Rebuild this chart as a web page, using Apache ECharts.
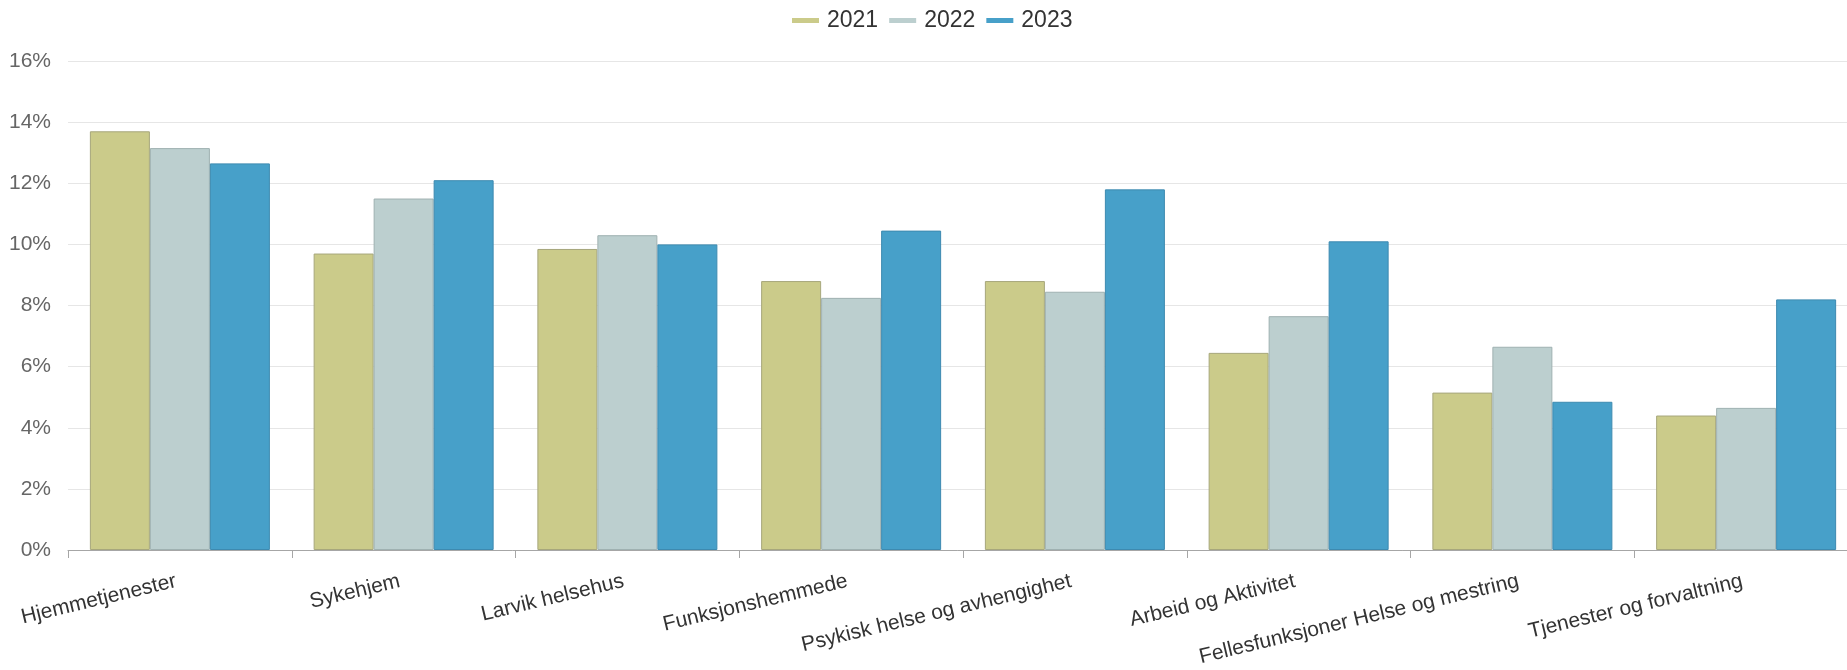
<!DOCTYPE html>
<html>
<head>
<meta charset="utf-8">
<script src="https://cdn.jsdelivr.net/npm/echarts@6/dist/echarts.min.js"></script>
<style>
html,body{margin:0;padding:0;background:#fff;}
#chart{width:1847px;height:670px;}
</style>
</head>
<body>
<div id="chart"></div>
<script>
const categories = ["Hjemmetjenester","Sykehjem","Larvik helsehus","Funksjonshemmede","Psykisk helse og avhengighet","Arbeid og Aktivitet","Fellesfunksjoner Helse og mestring","Tjenester og forvaltning"];
const seriesNames = ["2021","2022","2023"];
const values2021 = [13.7, 9.7, 9.85, 8.8, 8.8, 6.45, 5.15, 4.4];
const values2022 = [13.15, 11.5, 10.3, 8.25, 8.45, 7.65, 6.65, 4.65];
const values2023 = [12.65, 12.1, 10.0, 10.45, 11.8, 10.1, 4.85, 8.2];
const yTicks = [0, 2, 4, 6, 8, 10, 12, 14, 16];

const colors = ["#cbcb8a", "#bccfcf", "#47a0c9"];
const borders = ["#a7a77c", "#9fb1b1", "#3d8ab0"];
const font = "Liberation Sans, Arial, sans-serif";

const chart = echarts.init(document.getElementById('chart'), null, {renderer: 'canvas'});
const data = [values2021, values2022, values2023];
chart.setOption({
  animation: false,
  textStyle: {fontFamily: font},
  legend: {
    top: 4,
    left: 787,
    itemWidth: 27,
    itemHeight: 5,
    itemGap: 11,
    icon: 'rect',
    itemStyle: {borderWidth: 0},
    textStyle: {fontSize: 23, color: '#333', fontFamily: font, padding: [0, 0, 0, 3]},
    data: seriesNames
  },
  grid: {left: 68, top: 61, width: 1790, height: 489, containLabel: false, outerBoundsMode: 'none'},
  xAxis: {
    type: 'category',
    data: categories,
    axisLine: {show: true, lineStyle: {color: '#a6a6a6', width: 1}},
    axisTick: {show: true, alignWithLabel: false, length: 8, lineStyle: {color: '#a6a6a6'}},
    axisLabel: {rotate: 13.5, fontSize: 21, color: '#333', margin: 30, interval: 0, fontFamily: font, padding: [0, 4, 0, 0]}
  },
  yAxis: {
    type: 'value',
    min: yTicks[0],
    max: yTicks[yTicks.length - 1],
    interval: 2,
    axisLine: {show: false},
    axisTick: {show: false},
    splitLine: {lineStyle: {color: '#e6e6e6', width: 1}},
    axisLabel: {formatter: '{value}%', fontSize: 21, color: '#666', margin: 17, fontFamily: font}
  },
  series: seriesNames.map((name, i) => ({
    name: name,
    type: 'bar',
    data: data[i],
    barWidth: 60,
    barGap: '0%',
    itemStyle: {color: colors[i], borderColor: borders[i], borderWidth: 1}
  }))
});
</script>
</body>
</html>
